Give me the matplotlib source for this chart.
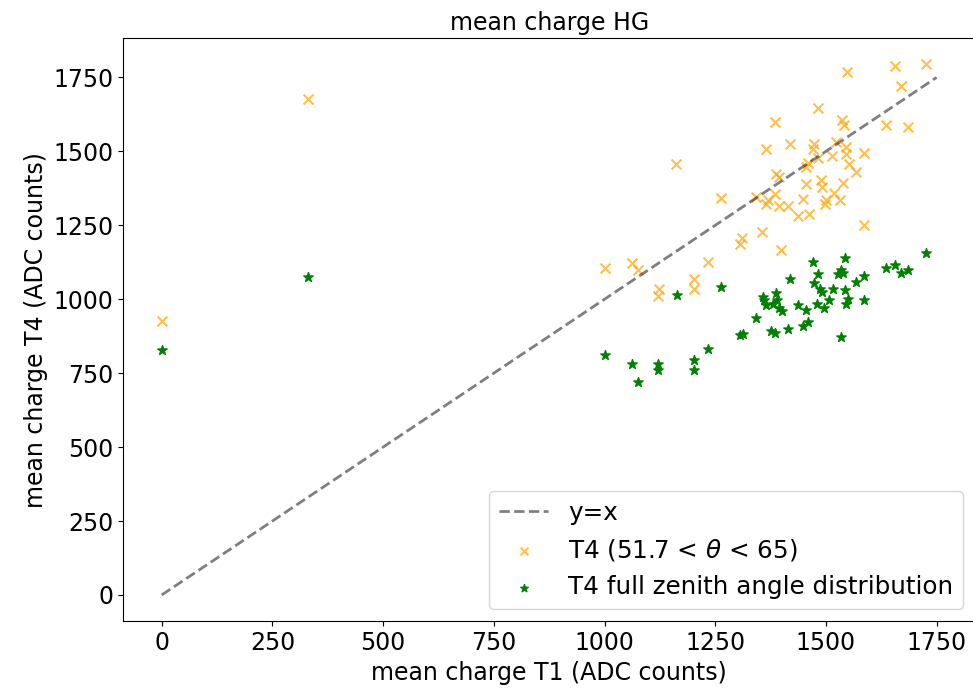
import numpy as np
import matplotlib
matplotlib.use("Agg")
import matplotlib.pyplot as plt

# T4 (51.7 < theta < 65) mean charge vs T1
t1_sel = [0, 331, 1727, 1657, 1547, 1669, 1482, 1384, 1537, 1541, 1635, 1685, 1162, 1365,
          1418, 1474, 1470, 1523, 1546, 1546, 1585, 1513, 1482, 1459, 1455, 1553, 1567,
          1388, 1393, 1455, 1489, 1492, 1538, 1519, 1262, 1342, 1369, 1384, 1365, 1395,
          1414, 1448, 1501, 1531, 1497, 1436, 1461, 1585, 1356, 1310, 1305, 1398, 1234,
          1062, 1075, 1002, 1201, 1124, 1120, 1201]
t4_sel = [926, 1678, 1794, 1787, 1769, 1720, 1645, 1599, 1605, 1588, 1588, 1582, 1456, 1508,
          1526, 1526, 1509, 1531, 1515, 1492, 1496, 1484, 1479, 1461, 1447, 1456, 1430,
          1425, 1414, 1389, 1402, 1380, 1393, 1359, 1342, 1346, 1334, 1357, 1323, 1315,
          1315, 1340, 1337, 1337, 1323, 1280, 1287, 1252, 1227, 1207, 1186, 1166, 1126,
          1121, 1098, 1107, 1067, 1033, 1010, 1034]

# T4 full zenith angle distribution
t1_full = [0, 331, 1727, 1635, 1657, 1669, 1685, 1544, 1472, 1482, 1534, 1527, 1538, 1585,
           1567, 1418, 1474, 1487, 1492, 1515, 1544, 1549, 1546, 1585, 1508, 1479, 1495,
           1436, 1455, 1459, 1448, 1414, 1376, 1385, 1342, 1357, 1388, 1365, 1380, 1393,
           1390, 1401, 1361, 1305, 1312, 1533, 1263, 1163, 1234, 1201, 1201, 1121, 1121,
           1063, 1075, 1002]
t4_full = [830, 1075, 1157, 1106, 1117, 1087, 1098, 1141, 1126, 1084, 1100, 1084, 1087, 1078,
           1058, 1070, 1056, 1036, 1025, 1036, 1030, 1000, 983, 997, 997, 985, 972,
           980, 963, 923, 909, 901, 893, 886, 935, 1008, 1021, 980, 985, 969,
           997, 960, 997, 878, 884, 871, 1042, 1014, 831, 796, 760, 780, 760,
           780, 721, 813]

diag = [0, 1750]
ticks = [0, 250, 500, 750, 1000, 1250, 1500, 1750]

plt.rcParams['font.size'] = 17

fig = plt.figure(figsize=(9.73, 6.89), dpi=100)
ax = fig.add_axes([0.1264, 0.098, 0.876, 0.847])

ax.plot(diag, diag, 'k--', alpha=0.5, lw=2, label='y=x')
ax.scatter(t1_sel, t4_sel, marker='x', c='orange', alpha=0.7, s=50,
           label=r'T4 (51.7 < $\theta$ < 65)')
ax.scatter(t1_full, t4_full, marker='*', c='green', s=50,
           label='T4 full zenith angle distribution')

ax.set_title('mean charge HG', fontsize=17)
ax.set_xlabel('mean charge T1 (ADC counts)')
ax.set_ylabel('mean charge T4 (ADC counts)')
ax.set_xticks(ticks)
ax.set_yticks(ticks)
ax.tick_params(labelsize=17)
ax.legend(loc='lower right', fontsize=17.7, markerscale=0.8)

fig.savefig('out.png', dpi=100)
